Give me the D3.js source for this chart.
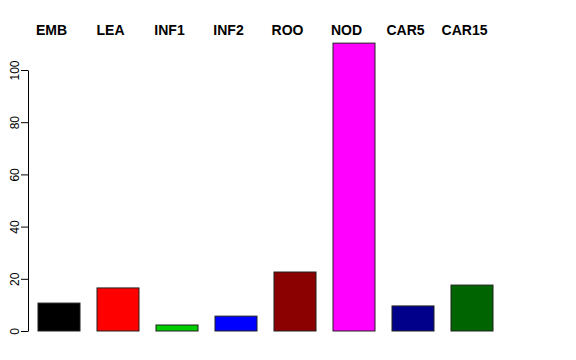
<!DOCTYPE html>
<html>
<head>
<meta charset="utf-8">
<script src="https://cdn.jsdelivr.net/npm/d3@7"></script>
<style>
  body { margin: 0; background: #fff; }
  svg { font-family: "Liberation Sans", Helvetica, Arial, sans-serif; }
</style>
</head>
<body>
<div id="vis"></div>
<script>
const FRAME_WIDTH = 576;
const FRAME_HEIGHT = 360;

// data
const categories = ["EMB", "LEA", "INF1", "INF2", "ROO", "NOD", "CAR5", "CAR15"];
const values = [10.7, 16.5, 2.3, 5.7, 22.6, 110.3, 9.6, 17.6];
const colors = ["#000000", "#ff0000", "#00cd00", "#0000ff", "#8b0000", "#ff00ff", "#00008b", "#006400"];
const yTicks = [0, 20, 40, 60, 80, 100];

const FRAME = d3.select("#vis")
                .append("svg")
                .attr("width", FRAME_WIDTH)
                .attr("height", FRAME_HEIGHT);

const X_SCALE = d3.scaleBand()
                  .domain(categories)
                  .range([29.5, 501.5])
                  .paddingInner(0.288)
                  .paddingOuter(0.144);

const Y_SCALE = d3.scaleLinear()
                  .domain([0, 100])
                  .range([331, 70]);

// y axis (R style: rotated labels)
const yAxis = FRAME.append("g")
                   .attr("transform", "translate(28,0)")
                   .call(d3.axisLeft(Y_SCALE).tickValues(yTicks).tickSize(7).tickSizeOuter(0));
yAxis.select(".domain").attr("stroke", "#000");
yAxis.selectAll(".tick line").attr("stroke", "#000");
yAxis.selectAll(".tick text")
     .attr("x", null).attr("dy", null)
     .attr("transform", "translate(-9,0) rotate(-90)")
     .attr("text-anchor", "middle")
     .style("font-size", "12px")
     .style("font-family", "Liberation Sans, Helvetica, Arial, sans-serif")
     .attr("fill", "#000");

// bars
FRAME.selectAll(".bar")
     .data(categories)
     .enter()
     .append("rect")
       .attr("class", "bar")
       .attr("x", (d) => X_SCALE(d))
       .attr("y", (d, i) => Y_SCALE(values[i]))
       .attr("width", X_SCALE.bandwidth())
       .attr("height", (d, i) => Y_SCALE(0) - Y_SCALE(values[i]))
       .attr("fill", (d, i) => colors[i])
       .attr("stroke", "#222")
       .attr("stroke-width", 1);

// category labels on top
FRAME.selectAll(".lab")
     .data(categories)
     .enter()
     .append("text")
       .attr("class", "lab")
       .attr("x", (d) => X_SCALE(d) + X_SCALE.bandwidth() / 2 - 7.5)
       .attr("y", 35)
       .attr("text-anchor", "middle")
       .style("font-size", "14px")
       .style("font-weight", "bold")
       .text((d) => d);
</script>
</body>
</html>
